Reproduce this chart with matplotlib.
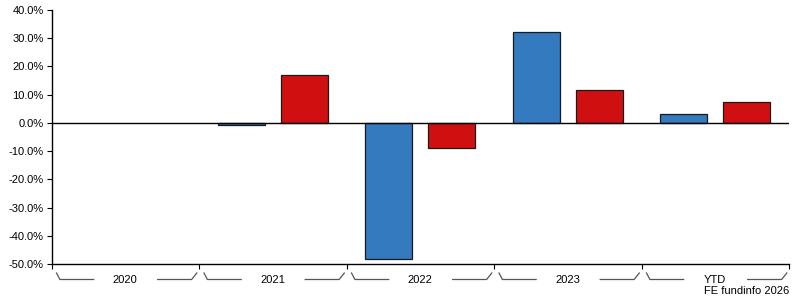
import matplotlib
matplotlib.use("Agg")
import matplotlib.pyplot as plt
from matplotlib.transforms import blended_transform_factory
from matplotlib.ticker import FuncFormatter
import numpy as np

categories = ["2020", "2021", "2022", "2023", "YTD"]
fund = [np.nan, -0.9, -48.3, 32.1, 3.2]
sector = [np.nan, 17.0, -8.8, 11.6, 7.4]
yticks = [40, 30, 20, 10, 0, -10, -20, -30, -40, -50]

plt.rcParams['font.family'] = ['Liberation Sans', 'DejaVu Sans']
plt.rcParams['font.size'] = 8

fig = plt.figure(figsize=(7.95, 3.0), dpi=100)
ax = fig.add_axes([51.5 / 795, 1 - 264 / 300, 737.5 / 795, 254 / 300])

x = np.arange(len(categories))
w = 0.32
ax.bar(x - 0.213, fund, w, color="#337abf", edgecolor="#1a1a1a", linewidth=0.9, zorder=2)
ax.bar(x + 0.213, sector, w, color="#d01010", edgecolor="#1a1a1a", linewidth=0.9, zorder=2)
ax.axhline(0, color="black", linewidth=1, zorder=3)

ax.set_xlim(-0.5, len(categories) - 0.5)
ax.set_ylim(-50, 40)
ax.set_yticks(yticks)
ax.yaxis.set_major_formatter(FuncFormatter(lambda v, p: "%.1f%%" % v))
ax.tick_params(axis="y", length=3.5, width=0.8, pad=2, colors="black")

ax.set_xticks(np.arange(len(categories) + 1) - 0.5)
ax.set_xticklabels([])
ax.tick_params(axis="x", length=3.5, width=0.8, direction="out")

for s in ["top", "right"]:
    ax.spines[s].set_visible(False)
for s in ["left", "bottom"]:
    ax.spines[s].set_linewidth(1)

# category labels with bracket lines
tr = blended_transform_factory(ax.transData, fig.transFigure)
y_hi = 1 - 273 / 300
y_lo = 1 - 279.5 / 300
y_txt = 1 - 280 / 300
for i, c in enumerate(categories):
    g0 = i - 0.5
    ax.plot([g0 + 0.034, g0 + 0.057, g0 + 0.286], [y_hi, y_lo, y_lo], transform=tr,
            color="#555555", linewidth=0.9, clip_on=False)
    ax.plot([g0 + 0.72, g0 + 0.95, g0 + 0.985], [y_lo, y_lo, y_hi], transform=tr,
            color="#555555", linewidth=0.9, clip_on=False)
    ax.text(i, y_txt, c, transform=tr, ha="center", va="center", fontsize=8)

fig.text(789 / 795, 1 - 291 / 300, "FE fundinfo 2026", ha="right", va="center", fontsize=8)

fig.savefig("out.png", dpi=100)
